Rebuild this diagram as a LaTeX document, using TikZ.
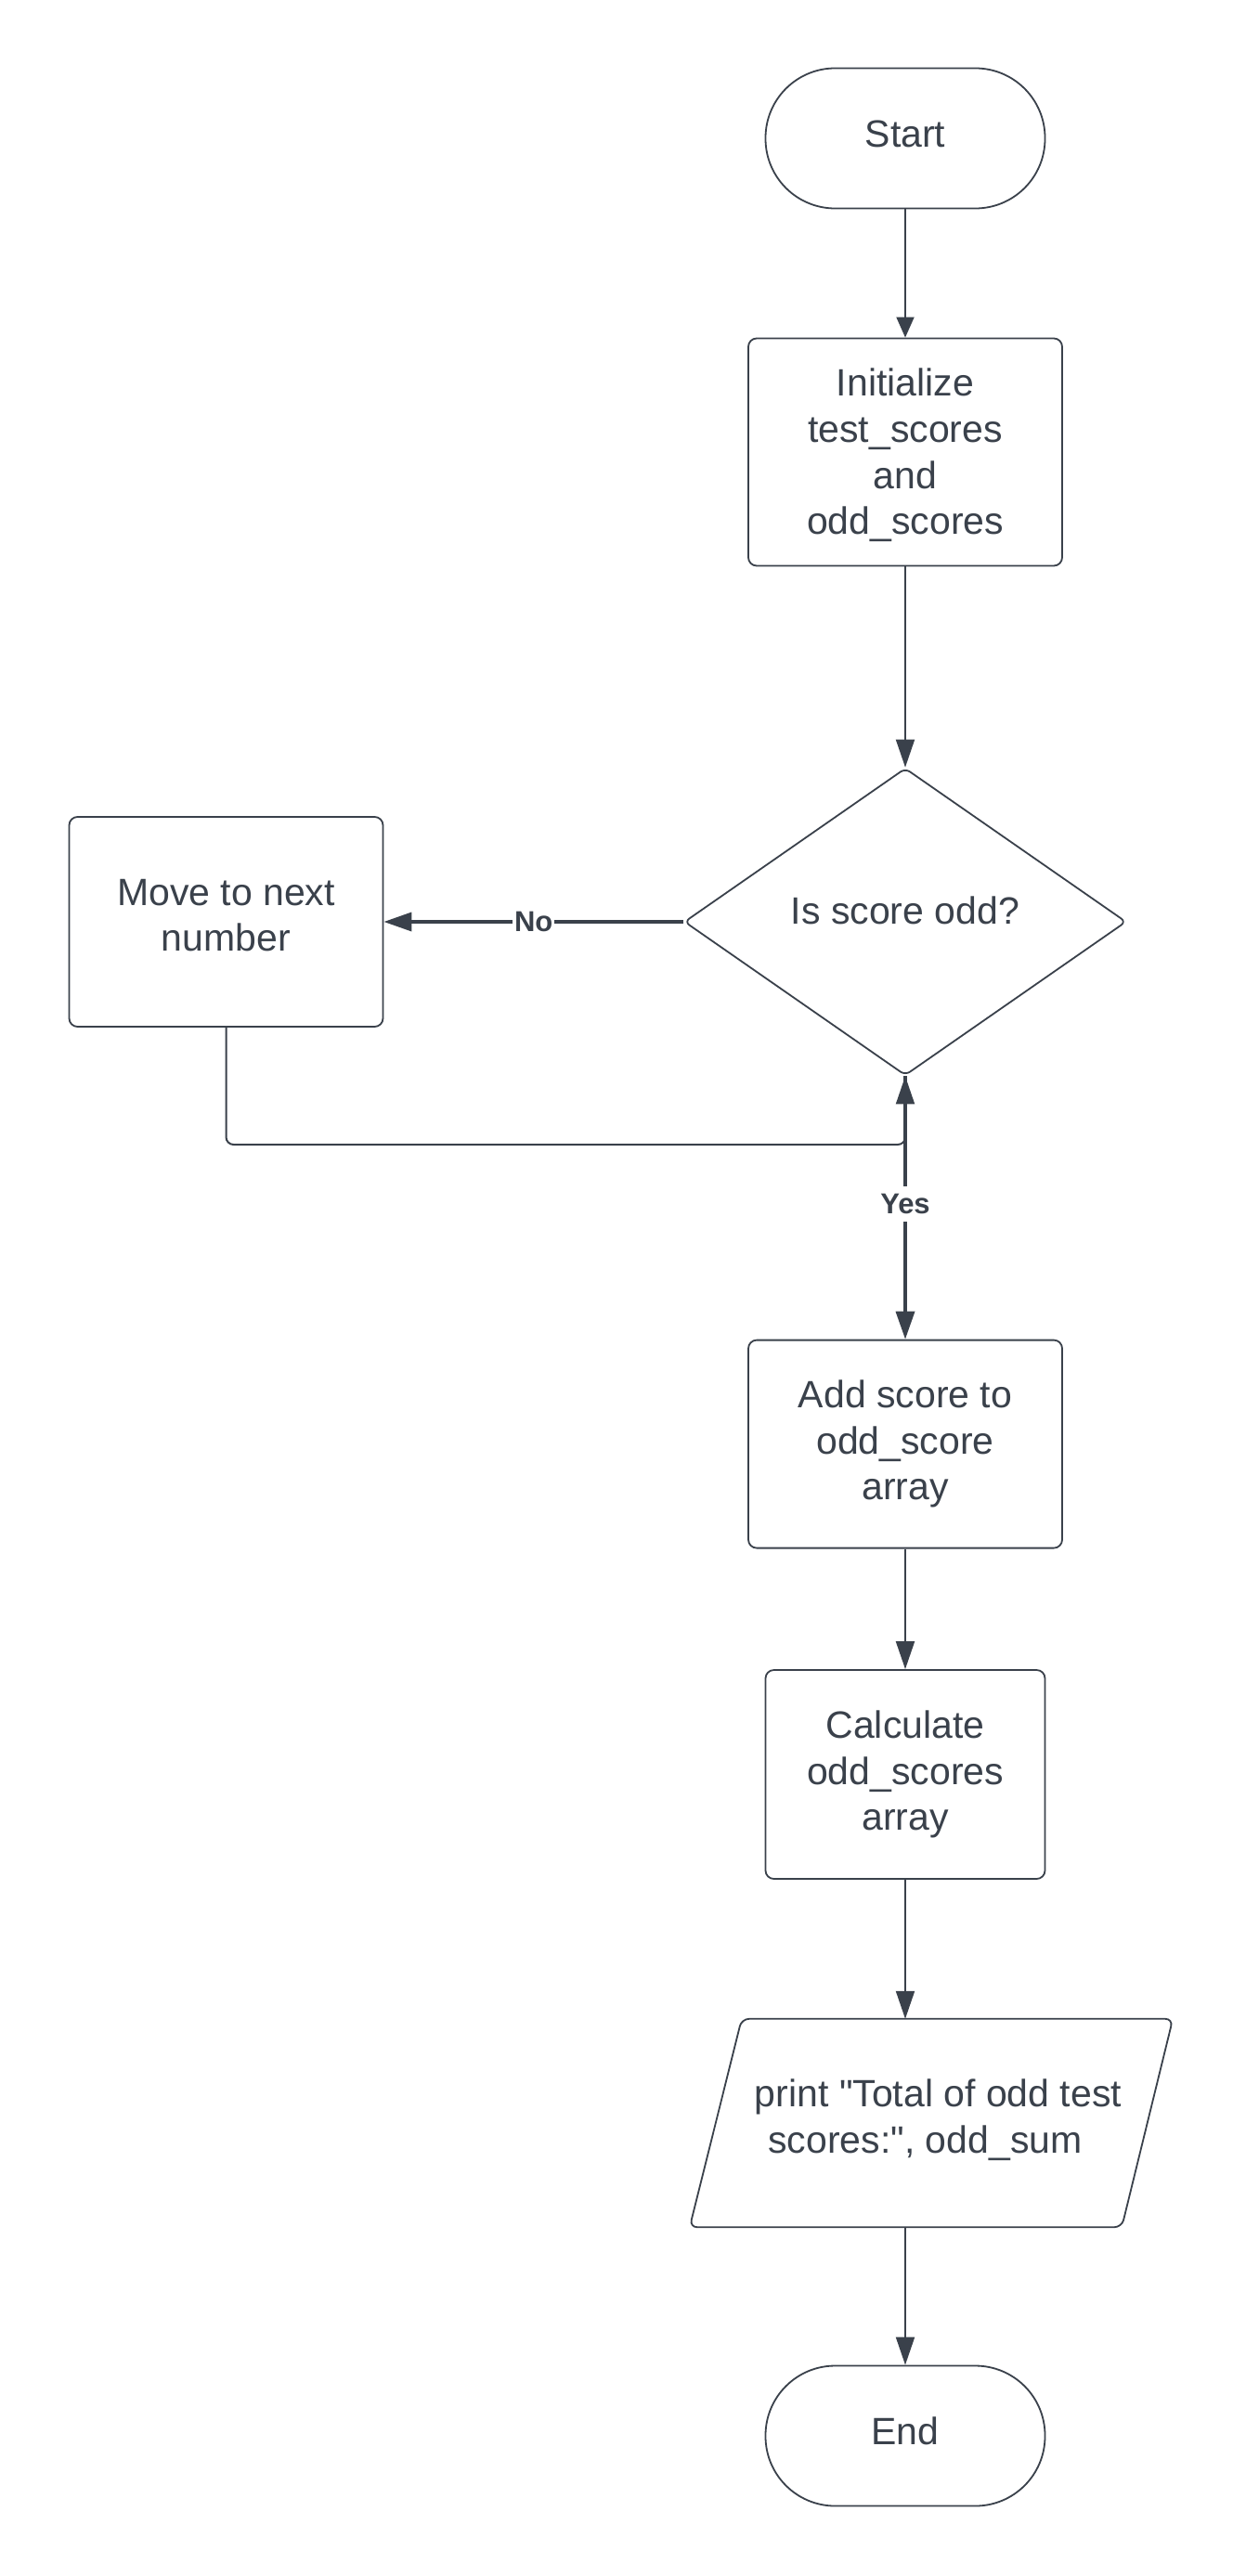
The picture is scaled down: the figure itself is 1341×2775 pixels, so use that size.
\documentclass[tikz,border=0pt]{standalone}
\usepackage{fontspec}
\setmainfont{Liberation Sans}
\usetikzlibrary{arrows.meta,shapes.geometric,calc}
\definecolor{ink}{RGB}{58,65,75}
\newcommand{\lift}[2]{\raisebox{#1}[\height][\depth]{#2}}
\begin{document}
\begin{tikzpicture}[x=1pt,y=-1pt,
  every node/.style={text=ink},
  base/.style={draw=ink, line width=1.8pt, fill=white, inner sep=0pt, align=center, font=\fontsize{41}{49.75}\selectfont},
  term/.style={base, rounded corners=75pt, minimum width=301pt, minimum height=151pt},
  proc/.style={base, rounded corners=9pt, minimum width=338pt, minimum height=225pt},
  decision/.style={base, diamond, rounded corners=6pt, minimum width=476pt, minimum height=331pt},
  io/.style={inner sep=0pt, align=center, font=\fontsize{41}{49.75}\selectfont, minimum width=465pt, minimum height=224pt},
  ioshape/.style={draw=ink, line width=1.8pt, rounded corners=8pt},
  conn/.style={draw=ink, line width=2pt, -{Triangle[length=30pt,width=20pt]}},
  boldconn/.style={conn, line width=3.5pt},
  lab/.style={fill=white, font=\bfseries\fontsize{31}{36}\selectfont, inner xsep=2pt, inner ysep=8pt}
]
\useasboundingbox (0,0) rectangle (1341,2775);

\node[term] (start) at (975,149) {\lift{5pt}{Start}};
\node[proc, minimum height=245pt] (init) at (975,487) {\lift{-3.5pt}{Initialize}\\\lift{-3.5pt}{test\_scores}\\\lift{-3.5pt}{and}\\\lift{-3.5pt}{odd\_scores}};
\node[decision] (dec) at (975,993) {\lift{12pt}{Is score odd?}};
\node[proc, minimum height=226pt] (move) at (243.5,993) {\lift{7pt}{Move to next}\\\lift{7pt}{number}};
\node[proc, minimum height=224pt] (add) at (975,1555.6) {Add score to\\odd\_score\\array};
\node[proc, minimum width=301pt] (calc) at (975,1911.5) {Calculate\\odd\_scores\\array};
\node[io] (print) at (1010.5,2287) {\lift{3.5pt}{print \textquotedbl Total of odd test}\\\lift{3.5pt}{scores:\textquotedbl, odd\_sum\hspace*{28pt}}};
\draw[ioshape] ($(print.south west)+(-35,0)$) -- ($(print.north west)+(21,0)$) -- ($(print.north east)+(20,0)$) -- ($(print.south east)+(-35,0)$) -- cycle;
\node[term] (end) at (975,2624) {\lift{5pt}{End}};

\coordinate (loopc) at (975,1233);

\draw[conn, -{Triangle[length=22pt,width=19pt]}] (start) -- (init);
\draw[conn] (init) -- (dec);
\draw[boldconn] (dec) -- node[lab]{No} (move);
\draw[conn, rounded corners=8pt] (move.south) |- (loopc) -- (dec.south);
\draw[boldconn] (dec.south) -- node[lab, pos=0.485]{Yes} (add.north);
\draw[conn] (add) -- (calc);
\draw[conn] (calc.south) -- (calc.south |- print.north);
\draw[conn] (print.south -| end.north) -- (end.north);
\end{tikzpicture}
\end{document}
